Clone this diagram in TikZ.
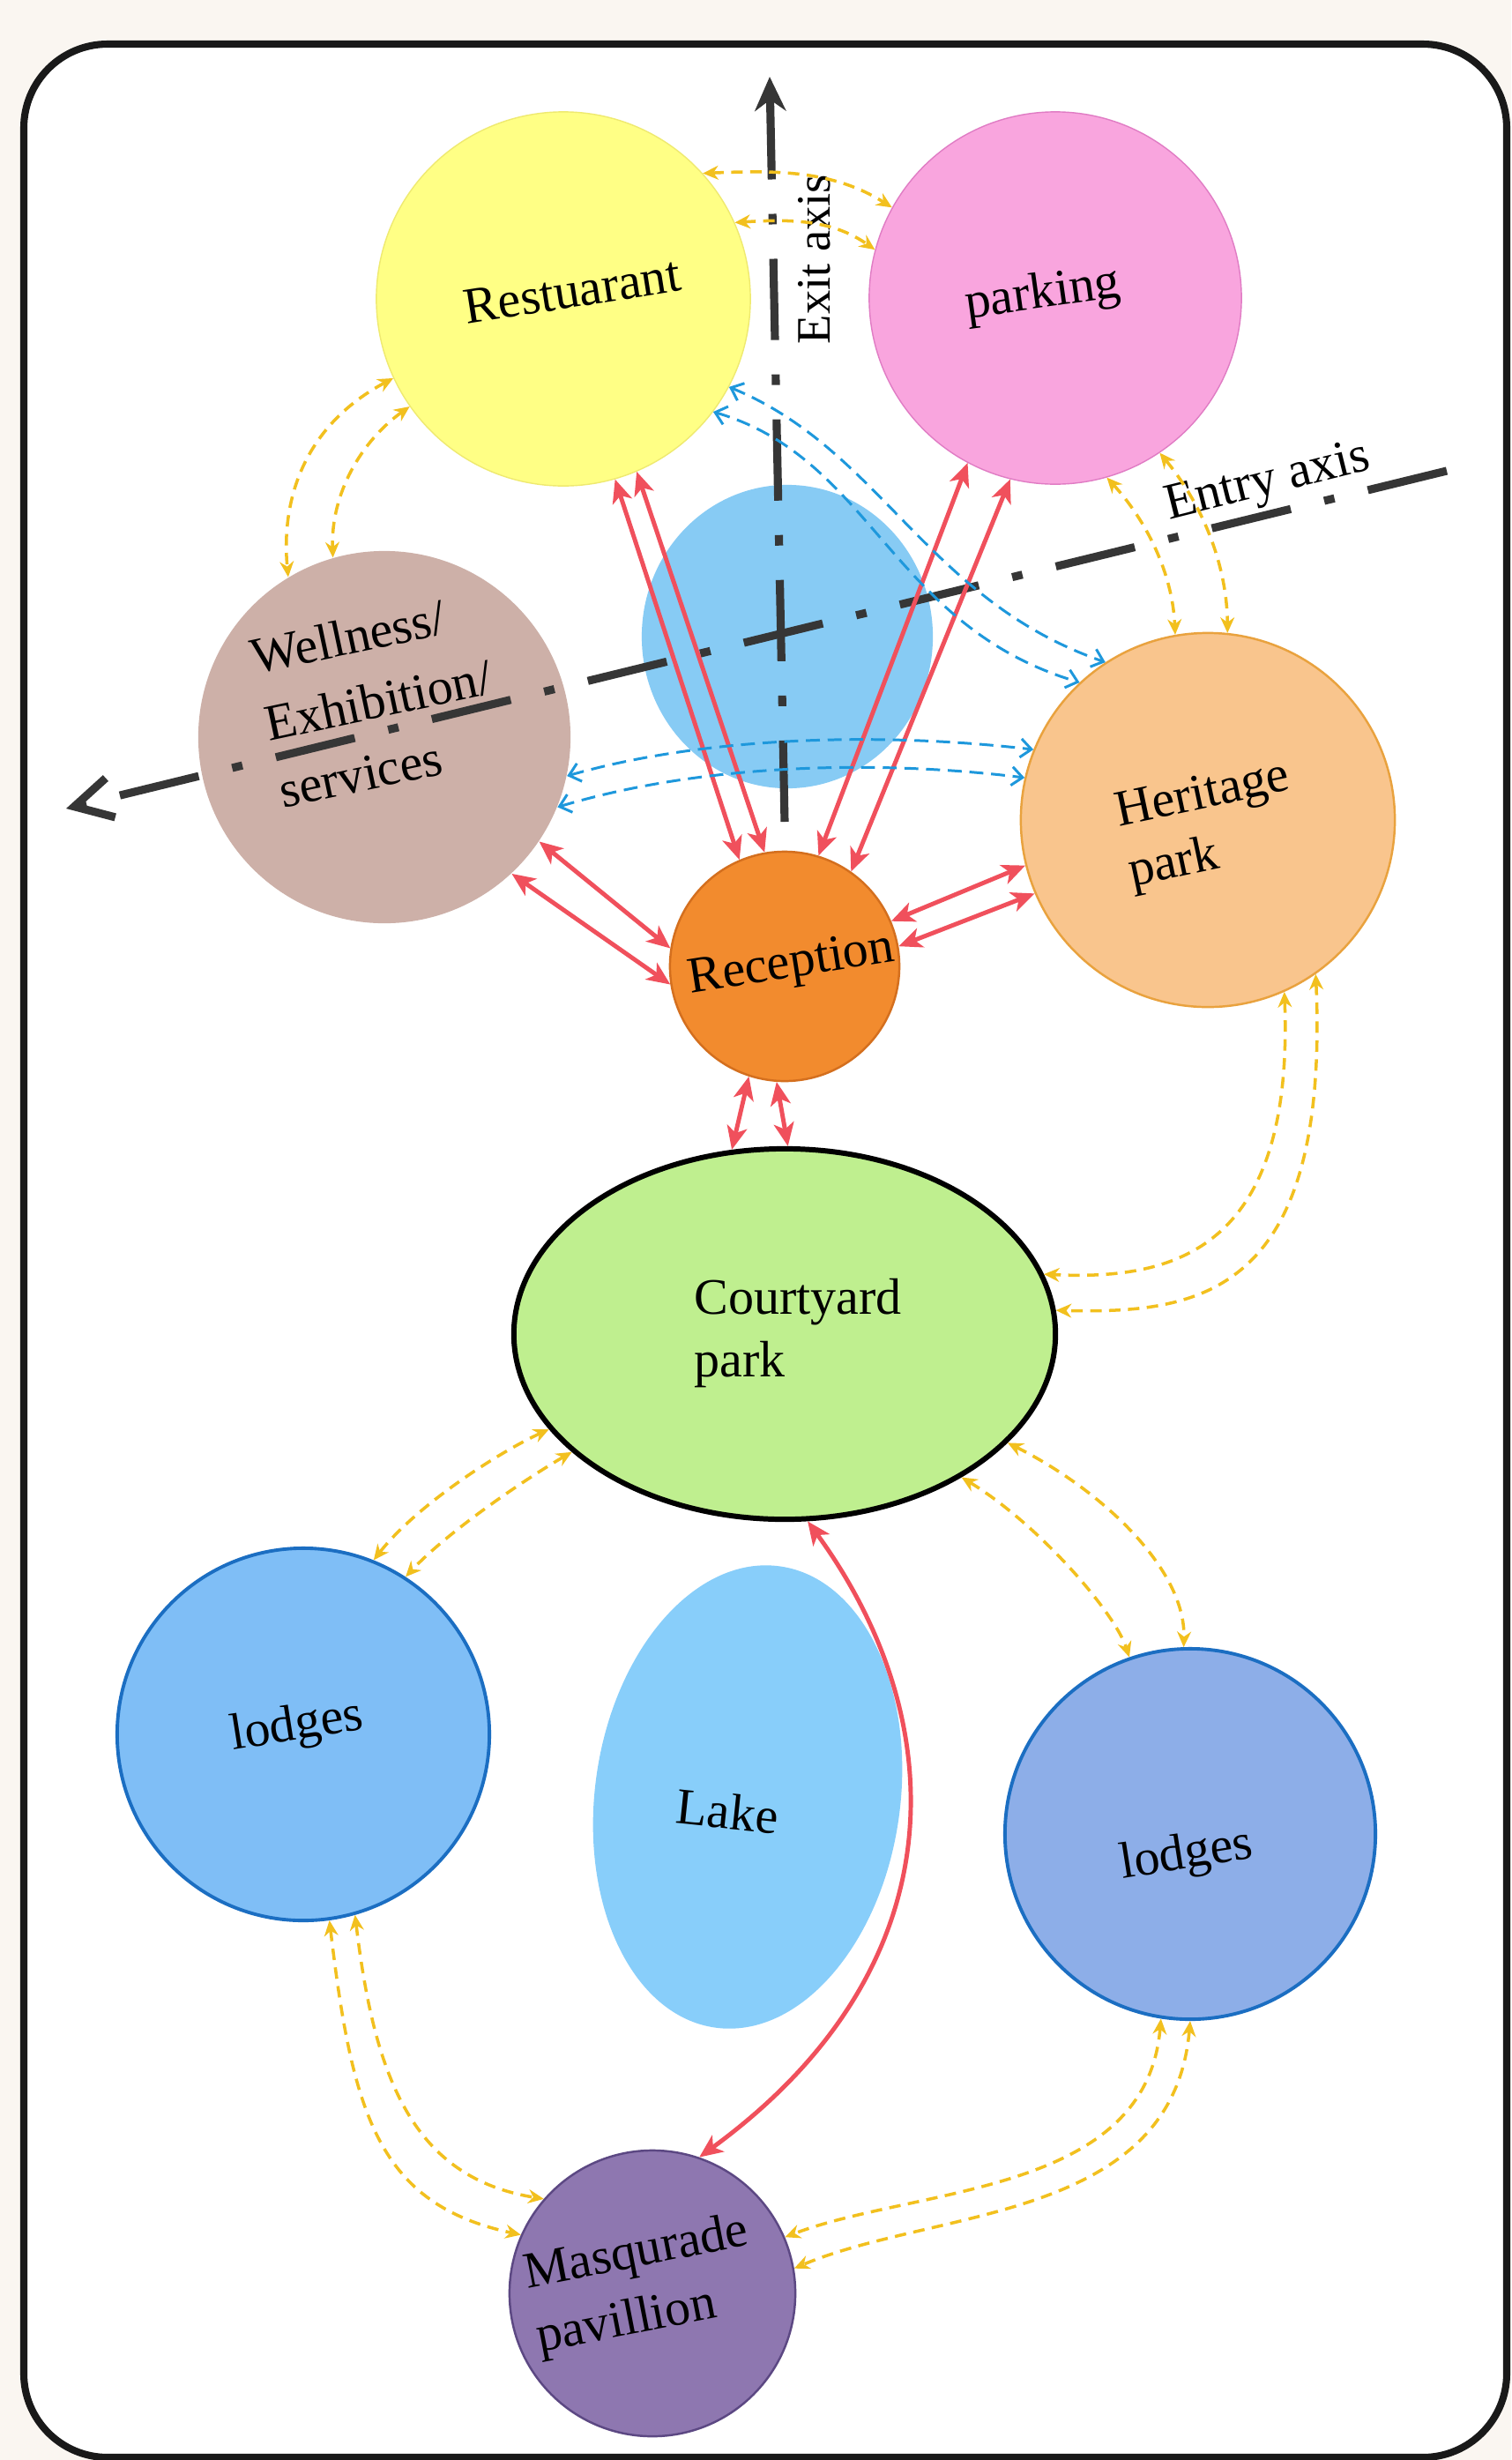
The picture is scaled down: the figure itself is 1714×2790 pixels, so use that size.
\documentclass[tikz,border=0pt]{standalone}
\usepackage{fontspec}
\setmainfont{Liberation Serif}
\usetikzlibrary{arrows.meta,shapes.geometric}
\definecolor{bgC}{HTML}{FAF6F1}
\definecolor{restC}{HTML}{FFFF85}
\definecolor{restB}{HTML}{EFEA70}
\definecolor{parkC}{HTML}{F9A5DE}
\definecolor{parkB}{HTML}{E07CC4}
\definecolor{blobC}{HTML}{87CBF4}
\definecolor{wellC}{HTML}{CDB0A8}
\definecolor{heritC}{HTML}{F9C58D}
\definecolor{heritB}{HTML}{E9A23E}
\definecolor{recepC}{HTML}{F28B2E}
\definecolor{recepB}{HTML}{D46F1E}
\definecolor{courtC}{HTML}{BFEF8F}
\definecolor{lodgeLC}{HTML}{7FBEF6}
\definecolor{lodgeRC}{HTML}{8DAEE8}
\definecolor{lodgeB}{HTML}{1B6EC2}
\definecolor{lakeC}{HTML}{88CEFA}
\definecolor{masqC}{HTML}{8E77B0}
\definecolor{masqB}{HTML}{5C4883}
\definecolor{redL}{HTML}{F0505C}
\definecolor{yelL}{HTML}{F2C01E}
\definecolor{bluL}{HTML}{1E98DC}
\definecolor{axisC}{HTML}{363636}
\begin{document}
\begin{tikzpicture}[x=0.01cm,y=-0.01cm,
  zone/.style={circle,inner sep=0pt,minimum size=#1},
  oval/.style={ellipse,inner sep=0pt},
  txt/.style={font=\fontsize{16.5}{20}\selectfont,align=left,inner sep=0pt,text=black},
  redarr/.style={draw=redL,line width=1.4pt,
    {Stealth[length=7.5pt,width=6.5pt,inset=2pt]}-{Stealth[length=7.5pt,width=6.5pt,inset=2pt]}},
  yelarr/.style={draw=yelL,line width=1pt,dash pattern=on 3.7pt off 2.4pt,
    {Stealth[length=5pt,width=4.5pt]}-{Stealth[length=5pt,width=4.5pt]}},
  bluarr/.style={draw=bluL,line width=0.85pt,dash pattern=on 4.5pt off 2.5pt,
    {Straight Barb[length=3.5pt,width=6pt]}-{Straight Barb[length=3.5pt,width=6pt]}},
  axisln/.style={draw=axisC,line width=2.6pt,dash pattern=on 26.2pt off 11.1pt on 3.4pt off 11.1pt},
  frameln/.style={draw=black!90,line width=2.3pt,fill=white,rounded corners=0.95cm}
]
\useasboundingbox (0,0) rectangle (1714,2790);
\fill[bgC] (0,0) rectangle (1714,2790);
\coordinate (fTL) at (27,50);
\coordinate (fBR) at (1709,2787);
\draw[frameln] (fTL) rectangle (fBR);

% zones
\node[zone=4.24cm,fill=restC,draw=restB,line width=0.4pt] (rest) at (639,339) {};
\node[zone=4.22cm,fill=parkC,draw=parkB,line width=0.4pt] (park) at (1197,338) {};
\node[oval,fill=blobC,minimum width=3.3cm,minimum height=3.44cm] (blob) at (893,722) {};
\node[zone=4.22cm,fill=wellC] (well) at (436,836) {};
\node[zone=4.24cm,fill=heritC,draw=heritB,line width=0.7pt] (herit) at (1370,930) {};
\node[zone=2.6cm,fill=recepC,draw=recepB,line width=0.7pt] (recep) at (890,1096) {};
\node[oval,fill=courtC,draw=black,line width=1.7pt,minimum width=6.14cm,minimum height=4.2cm] (court) at (890,1513) {};
\node[zone=4.22cm,fill=lodgeLC,draw=lodgeB,line width=1.1pt] (lodgeL) at (344,1967) {};
\node[oval,fill=lakeC,minimum width=3.46cm,minimum height=5.28cm,rotate=-8] (lake) at (848,2038) {};
\node[zone=4.2cm,fill=lodgeRC,draw=lodgeB,line width=1.1pt] (lodgeR) at (1350,2080) {};
\node[zone=3.24cm,fill=masqC,draw=masqB,line width=0.7pt] (masq) at (740,2601) {};

% texts
\node[txt,rotate=9] (resttxt) at (649,330) {Restuarant};
\node[txt,rotate=8] (parktxt) at (1183,335) {parking};
\node[txt,rotate=12,font=\fontsize{16.5}{22}\selectfont] (welltxt) at (429,794) {Wellness/\\Exhibition/\\services};
\node[txt,rotate=12] (herittxt) at (1372,938) {Heritage\\park};
\node[txt,rotate=9] (receptxt) at (898,1095) {Reception};
\node[txt] (courttxt) at (905,1512) {Courtyard\\park};
\node[txt,rotate=9] (lodgeLtxt) at (337,1959) {lodges};
\node[txt,rotate=-6] (laketxt) at (825,2054) {Lake};
\node[txt,rotate=9] (lodgeRtxt) at (1346,2105) {lodges};
\node[txt,rotate=11,font=\fontsize{16.5}{21}\selectfont] (masqtxt) at (729,2593) {Masqurade\\pavillion};

% axes
\coordinate (exitS) at (890,932);
\coordinate (exitE) at (873,87);
\coordinate (entryS) at (1641,534);
\coordinate (entryE) at (75,917);
\draw[axisln,-{Stealth[length=11pt,width=10pt]}] (exitS) -- (exitE);
\draw[axisln,-{Straight Barb[length=12pt,width=13pt]}] (entryS) -- (entryE);
\node[txt,rotate=90,font=\fontsize{15.5}{18}\selectfont] (exittxt) at (924,294) {Exit axis};
\node[txt,rotate=14] (entrytxt) at (1438,548) {Entry axis};

% red connectors
\draw[redarr] (rest.-74) -- (recep.113);
\draw[redarr] (rest.-67) -- (recep.100);
\draw[redarr] (park.-118) -- (recep.73);
\draw[redarr] (park.-104) -- (recep.55);
\draw[redarr] (well.-34) -- (recep.171);
\draw[redarr] (well.-47) -- (recep.189);
\draw[redarr] (recep.23) -- (herit.194);
\draw[redarr] (recep.10) -- (herit.203);
\draw[redarr] (recep.-108) -- (court.106);
\draw[redarr] (recep.-94) -- (court.89);
\draw[redarr] (court.-83) .. controls (1080,1950) and (1090,2230) .. (masq.71);

% yellow connectors
\draw[yelarr] (rest.205) .. controls (350,480) and (318,560) .. (well.121);
\draw[yelarr] (rest.215) .. controls (410,500) and (375,560) .. (well.106);
\draw[yelarr] (rest.42) .. controls (880,193) and (945,193) .. (park.151);
\draw[yelarr] (rest.24) .. controls (900,248) and (945,250) .. (park.165);
\draw[yelarr] (park.-74) .. controls (1300,590) and (1330,650) .. (herit.100);
\draw[yelarr] (park.-56) .. controls (1370,580) and (1392,650) .. (herit.84);
\draw[yelarr] (herit.-66) .. controls (1468,1420) and (1330,1452) .. (court.13);
\draw[yelarr] (herit.-55) .. controls (1508,1470) and (1360,1490) .. (court.5);
\draw[yelarr] (court.202) .. controls (560,1650) and (470,1710) .. (lodgeL.68);
\draw[yelarr] (court.209) .. controls (600,1675) and (510,1735) .. (lodgeL.57);
\draw[yelarr] (court.-26) .. controls (1250,1690) and (1345,1780) .. (lodgeR.92);
\draw[yelarr] (court.-39) .. controls (1180,1730) and (1265,1830) .. (lodgeR.109);
\draw[yelarr] (lodgeL.-82) .. controls (400,2400) and (430,2500) .. (masq.156);
\draw[yelarr] (lodgeL.-74) .. controls (425,2360) and (470,2470) .. (masq.139);
\draw[yelarr] (lodgeR.-99) .. controls (1300,2490) and (1040,2480) .. (masq.23);
\draw[yelarr] (lodgeR.-90) .. controls (1330,2520) and (1060,2505) .. (masq.10);

% blue connectors
\draw[bluarr] (rest.-28) .. controls (1000,510) and (1050,680) .. (herit.123);
\draw[bluarr] (rest.-37) .. controls (990,520) and (1010,710) .. (herit.133);
\draw[bluarr] (well.-12) .. controls (800,835) and (1000,830) .. (herit.158);
\draw[bluarr] (well.-22) .. controls (800,865) and (1000,862) .. (herit.167);
\end{tikzpicture}
\end{document}
